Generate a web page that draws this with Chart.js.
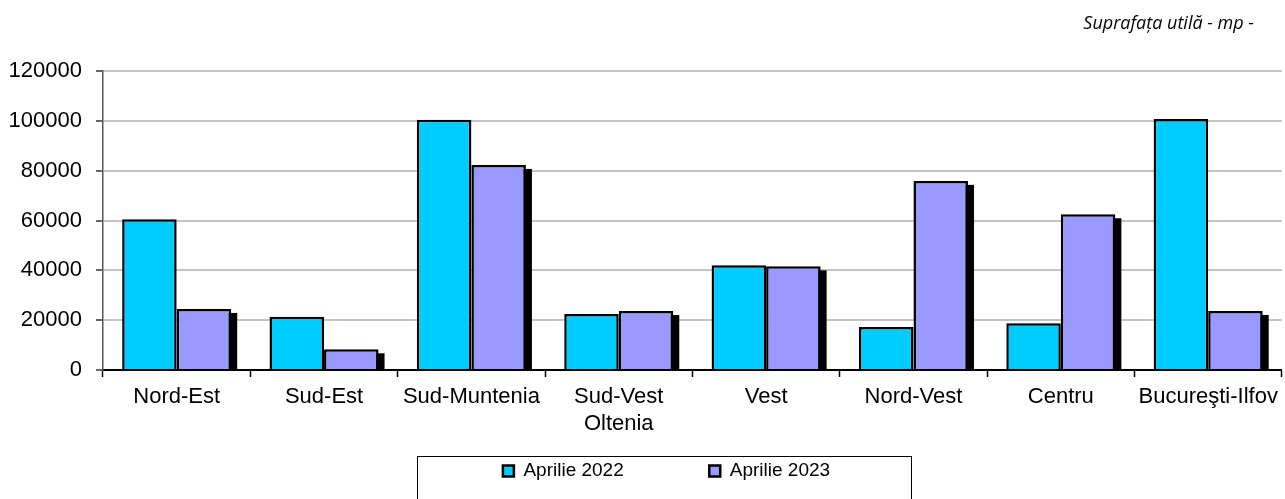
<!DOCTYPE html>
<html>
<head>
<meta charset="utf-8">
<script src="https://cdn.jsdelivr.net/npm/chart.js@4/dist/chart.umd.min.js"></script>
<style>
  html, body { margin: 0; padding: 0; background: #ffffff; }
  #wrap { width: 1285px; height: 499px; position: relative; }
</style>
</head>
<body>
<div id="wrap"><canvas id="c" width="1285" height="499"></canvas></div>
<script>
const categories = ['Nord-Est', 'Sud-Est', 'Sud-Muntenia', ['Sud-Vest', 'Oltenia'], 'Vest', 'Nord-Vest', 'Centru', 'Bucureşti-Ilfov'];
const seriesNames = ['Aprilie 2022', 'Aprilie 2023'];
const values2022 = [60500, 21400, 100400, 22500, 42000, 17300, 18800, 100700];
const values2023 = [24500, 8300, 82300, 23700, 41600, 75900, 62500, 23700];
const yTicks = [0, 20000, 40000, 60000, 80000, 100000, 120000];
const unitNote = 'Suprafața utilă - mp -';

const FONT = "'Liberation Sans', Arial, sans-serif";

const shadowPlugin = {
  id: 'barShadow',
  beforeDatasetsDraw(chart) {
    const meta = chart.getDatasetMeta(1);
    const ctx = chart.ctx;
    ctx.save();
    ctx.fillStyle = '#000000';
    meta.data.forEach(bar => {
      const p = bar.getProps(['x', 'y', 'base', 'width'], true);
      ctx.fillRect(p.x - p.width / 2 + 6, p.y + 4, p.width, p.base - p.y - 4);
    });
    ctx.restore();
  }
};

const legendPlacePlugin = {
  id: 'legendPlace',
  afterLayout(chart) {
    const lg = chart.legend;
    lg.left += 50;
    lg.top = 376;
  },
  afterDraw(chart) {
    const ctx = chart.ctx;
    ctx.save();
    ctx.strokeStyle = '#000000';
    ctx.lineWidth = 1;
    ctx.strokeRect(417.5, 456.5, 494, 60);
    ctx.fillStyle = '#000000';
    ctx.font = "italic 18px 'Open Sans', sans-serif";
    ctx.textAlign = 'right';
    ctx.textBaseline = 'alphabetic';
    ctx.fillText(unitNote, 1254, 29);
    ctx.restore();
  }
};

new Chart(document.getElementById('c'), {
  type: 'bar',
  data: {
    labels: categories,
    datasets: [
      {
        label: seriesNames[0],
        data: values2022,
        backgroundColor: '#00CCFF',
        borderColor: '#000000',
        borderWidth: 2.5,
        categoryPercentage: 0.74,
        barPercentage: 1.0
      },
      {
        label: seriesNames[1],
        data: values2023,
        backgroundColor: '#9999FF',
        borderColor: '#000000',
        borderWidth: 2.5,
        categoryPercentage: 0.74,
        barPercentage: 1.0
      }
    ]
  },
  options: {
    responsive: false,
    animation: false,
    devicePixelRatio: 1,
    layout: { padding: { top: 71, right: 2, left: 0, bottom: 0 } },
    plugins: {
      legend: {
        display: true,
        position: 'bottom',
        maxHeight: 30,
        labels: {
          font: { family: FONT, size: 19 },
          color: '#000000',
          boxWidth: 11,
          boxHeight: 11,
          padding: 85.5
        }
      },
      title: { display: false },
      tooltip: { enabled: false }
    },
    scales: {
      x: {
        afterFit(s) { s.height = 99; },
        grid: {
          display: true,
          drawOnChartArea: false,
          drawTicks: true,
          tickLength: 7,
          tickColor: '#000000',
          tickWidth: 1.5,
          offset: true
        },
        border: { display: true, color: '#000000', width: 2 },
        ticks: {
          font: { family: FONT, size: 22 },
          color: '#000000',
          padding: 7,
          maxRotation: 0,
          autoSkip: false
        }
      },
      y: {
        min: 0,
        max: 120000,
        afterFit(s) { s.width = 103; },
        afterBuildTicks(s) { s.ticks = yTicks.map(v => ({ value: v })); },
        grid: {
          color: '#c4c4c4',
          lineWidth: 2,
          drawTicks: true,
          tickLength: 7,
          tickColor: '#333333',
          tickWidth: 1.5
        },
        border: { display: true, color: '#555555', width: 1.5 },
        ticks: {
          font: { family: FONT, size: 22 },
          color: '#000000',
          padding: 14,
          callback: v => String(v)
        }
      }
    }
  },
  plugins: [shadowPlugin, legendPlacePlugin]
});
</script>
</body>
</html>
